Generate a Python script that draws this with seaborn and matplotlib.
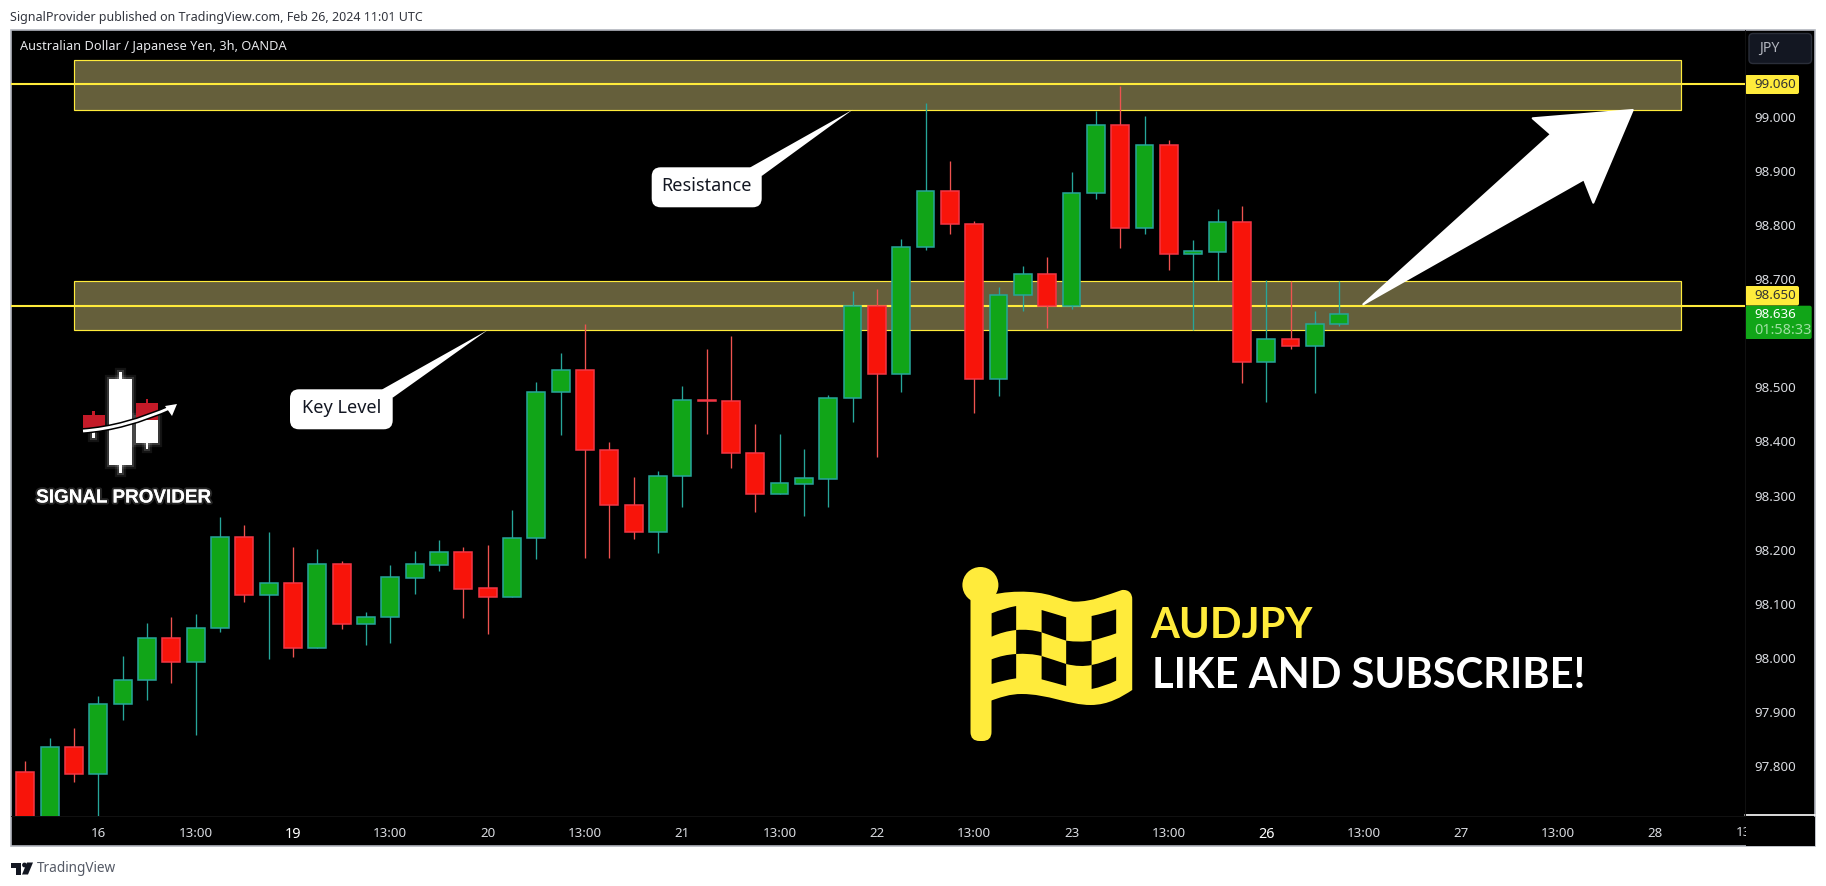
import matplotlib
matplotlib.use("Agg")
import matplotlib.pyplot as plt
import matplotlib.patheffects as pe
from matplotlib.patches import Rectangle, Polygon, FancyBboxPatch, PathPatch, Circle
from matplotlib.path import Path
import numpy as np
import pandas as pd
import seaborn as sns

# ---------------- data (prices) ----------------
highs = [97.810,97.852,97.871,97.930,98.004,98.064,98.076,98.081,98.260,98.246,98.233,98.205,98.201,98.179,
         98.085,98.172,98.198,98.218,98.205,98.209,98.273,98.509,98.563,98.617,98.399,98.334,98.345,98.502,
         98.571,98.595,98.433,98.414,98.386,98.486,98.678,98.681,98.774,99.025,98.918,98.807,98.685,98.724,
         98.741,98.898,99.010,99.056,99.001,98.957,98.772,98.829,98.835,98.698,98.696,98.641,98.696]
lows = [97.700,97.700,97.770,97.700,97.886,97.923,97.954,97.858,98.048,98.103,97.998,98.002,98.019,98.054,
        98.024,98.028,98.118,98.161,98.074,98.044,98.113,98.183,98.412,98.185,98.185,98.220,98.194,98.278,
        98.414,98.351,98.270,98.303,98.263,98.278,98.436,98.372,98.492,98.754,98.784,98.453,98.484,98.640,
        98.610,98.645,98.848,98.758,98.784,98.717,98.606,98.698,98.508,98.472,98.571,98.490,98.614]
opens = [97.789,97.700,97.835,97.786,97.914,97.959,98.036,97.993,98.055,98.223,98.117,98.138,98.019,98.173,
         98.063,98.075,98.148,98.172,98.195,98.129,98.113,98.221,98.491,98.531,98.385,98.282,98.233,98.337,
         98.476,98.475,98.378,98.303,98.322,98.331,98.481,98.651,98.525,98.760,98.862,98.802,98.515,98.670,
         98.709,98.651,98.858,98.984,98.794,98.947,98.747,98.750,98.805,98.546,98.590,98.577,98.616]
closes = [97.700,97.835,97.786,97.914,97.959,98.036,97.993,98.055,98.223,98.117,98.138,98.019,98.173,98.063,
          98.075,98.149,98.173,98.195,98.128,98.113,98.221,98.491,98.531,98.385,98.282,98.233,98.337,98.476,
          98.475,98.378,98.303,98.323,98.332,98.481,98.651,98.525,98.760,98.862,98.802,98.515,98.670,98.709,
          98.651,98.858,98.984,98.794,98.947,98.747,98.751,98.805,98.546,98.590,98.577,98.616,98.635]
time_tick_pos = [3,7,11,15,19,23,27,31,35,39,43,47,51,55,59,63,67]
time_tick_labels = ["16","13:00","19","13:00","20","13:00","21","13:00","22","13:00","23","13:00","26","13:00","27","13:00","28"]
bold_labels = ["19","26"]
price_ticks = [97.8,97.9,98.0,98.1,98.2,98.3,98.4,98.5,98.7,98.8,98.9,99.0]
level_prices = [99.060, 98.650]
zones = [(99.013, 99.104), (98.605, 98.696)]
zone_span = (2.01, 68.04)
last_price = "98.636"
countdown = "01:58:33"

W, H = 1826, 886
UP, DOWN = "#11A518", "#F8140A"
UP_EDGE, DOWN_EDGE = "#26A69A", "#F23645"
UP_WICK, DOWN_WICK = "#26A69A", "#EF5350"
YEL = "#FFEB3B"
BG = "black"

sns.set_theme(style="dark", rc={"axes.facecolor": "none", "figure.facecolor": "white"})
plt.rcParams["font.family"] = ["Noto Sans", "DejaVu Sans"]

fig = plt.figure(figsize=(W/100, H/100), dpi=100)

back = fig.add_axes([0, 0, 1, 1], zorder=0)
back.set_xlim(0, W); back.set_ylim(H, 0); back.axis("off")
back.add_patch(Rectangle((11, 30), 1804, 816, fc=BG, ec="#B2B5BE", lw=1.2))

L, R, T, B = 11, 1745, 30, 816
ax = fig.add_axes([L/W, 1-B/H, (R-L)/W, (B-T)/H], zorder=1)

df = pd.DataFrame({"i": np.arange(len(opens)), "open": opens, "high": highs, "low": lows, "close": closes})
df["up"] = df["close"] >= df["open"]
df["bottom"] = df[["open", "close"]].min(axis=1)
df["height"] = (df["close"] - df["open"]).abs()

for lo, hi in zones:
    ax.add_patch(Rectangle((zone_span[0], lo), zone_span[1]-zone_span[0], hi-lo, fc="#655F3B", ec=YEL, lw=0.85, zorder=1))
for lv in level_prices:
    ax.axhline(lv, color=YEL, lw=1.5, zorder=1.5)

for up, col in [(True, UP_WICK), (False, DOWN_WICK)]:
    s = df[df["up"] == up]
    ax.vlines(s["i"], s["low"], s["high"], color=col, lw=0.95, zorder=2)

for up, col, ec in [(True, UP, UP_EDGE), (False, DOWN, DOWN_EDGE)]:
    s = df[df["up"] == up]
    sns.barplot(data=s, x="i", y="height", bottom=s["bottom"].to_numpy(), native_scale=True, width=0.735,
                color=col, saturation=1, edgecolor=ec, linewidth=1.1, errorbar=None, ax=ax, zorder=3)
ax.set_xlim(-0.588, 70.68)
ax.set_ylim(97.708, 99.160)
ax.set_xlabel(""); ax.set_ylabel("")
ax.grid(False)
for sp in ax.spines.values():
    sp.set_visible(False)

ax.set_yticks(price_ticks)
ax.set_yticklabels([f"{p:.3f}" for p in price_ticks], color="#D9DBE0", fontsize=9.6)
ax.yaxis.tick_right()
ax.tick_params(axis="y", length=0, pad=6.4)
ax.set_xticks(time_tick_pos)
ax.set_xticklabels(time_tick_labels, color="#D9DBE0", fontsize=9.6)
ax.tick_params(axis="x", length=0, pad=8)
for t in ax.get_xticklabels():
    if t.get_text() in bold_labels:
        t.set_fontweight("bold")
        t.set_fontsize(10.4)
        t.set_color("white")
ax.text(71, -0.0215, "13:00", transform=ax.get_xaxis_transform(), ha="center", va="center", color="#D9DBE0", fontsize=9.6, clip_on=False)

ov = fig.add_axes([0, 0, 1, 1], zorder=2)
ov.set_xlim(0, W); ov.set_ylim(H, 0); ov.axis("off"); ov.patch.set_alpha(0)
ov.add_patch(Rectangle((1745.5, 816.5), 69, 29, fc=BG, ec="none"))
ov.plot([1745, 1815], [815, 815], color="white", lw=1.2)
ov.plot([11, 1745], [816, 816], color="#111111", lw=0.7)
ov.plot([1745, 1745], [30, 816], color="#111111", lw=0.7)

ov.text(10, 17, "SignalProvider published on TradingView.com, Feb 26, 2024 11:01 UTC", color="#33363F", fontsize=9.0, va="center")
ov.text(20, 46.5, "Australian Dollar / Japanese Yen, 3h, OANDA", color="#E8E9EC", fontsize=9.2, va="center")
ov.text(37, 869, "TradingView", color="#555A66", fontsize=9.8, va="center")
dk = "#131722"
ov.add_patch(Polygon([(11,862.5),(21,862.5),(21,874.5),(16,874.5),(16,867.5),(11,867.5)], fc=dk, ec="none"))
ov.add_patch(Circle((24.5,865), 2.4, fc=dk, ec="none"))
ov.add_patch(Polygon([(27,862.5),(33,862.5),(28,874.5),(22,874.5)], fc=dk, ec="none"))

ov.add_patch(FancyBboxPatch((1749, 33.5), 62.5, 30, boxstyle="round,pad=0,rounding_size=4", fc="#131722", ec="#2A2E39", lw=1))
ov.text(1759, 48.5, "JPY", color="#B2B5BE", fontsize=10.2, va="center")
for y0, y1, txt in [(75, 94, "99.060"), (286, 305.5, "98.650")]:
    ov.add_patch(FancyBboxPatch((1745, y0), 54, y1-y0, boxstyle="round,pad=0,rounding_size=2", fc=YEL, ec="none"))
    ov.text(1754, (y0+y1)/2, txt, color="#333333", fontsize=9.6, va="center")
ov.add_patch(FancyBboxPatch((1745, 305.7), 66.7, 33.3, boxstyle="round,pad=0,rounding_size=2", fc=UP, ec="none"))
ov.text(1754, 315, last_price, color="white", fontsize=9.6, va="center")
ov.text(1754, 330, countdown, color="#A0E0A3", fontsize=10.4, va="center")

def callout(x0, y0, x1, y1, tail, label, fs):
    ov.add_patch(Polygon(tail, fc="white", ec="none", zorder=5))
    ov.add_patch(FancyBboxPatch((x0, y0), x1-x0, y1-y0, boxstyle="round,pad=0,rounding_size=9", fc="white", ec="none", zorder=5))
    ov.text((x0+x1)/2, (y0+y1)/2-1, label, color="#131722", fontsize=fs, ha="center", va="center", zorder=6)
callout(651.7, 167.3, 761.7, 207.3, [(750,167.5),(852.7,109.7),(761.7,176)], "Resistance", 13)
callout(290, 389.3, 392.7, 429.3, [(382,389.5),(487.8,330),(392.7,397.7)], "Key Level", 13)

ov.add_patch(Polygon([(1363.3,304.3),(1551,134.3),(1532.7,118.3),(1632.7,110),(1593.3,202.7),(1584,179.3)],
                     fc="white", ec="white", lw=1.5, joinstyle="round", zorder=5))

# brand logo
glow = [pe.withStroke(linewidth=6, foreground="white", alpha=0.08), pe.withStroke(linewidth=3, foreground="white", alpha=0.15)]
def rect(x0, y0, x1, y1, c, g=True):
    r = Rectangle((x0, y0), x1-x0, y1-y0, fc=c, ec="none", zorder=4)
    if g:
        r.set_path_effects(glow + [pe.Normal()])
    ov.add_patch(r)
rect(118.8, 372.3, 121.8, 473.3, "white")
rect(109.3, 379.3, 132, 465, "white")
rect(145.6, 420, 148.4, 448.7, "white")
rect(136, 417, 158, 442.7, "white")
rect(92.3, 427, 95.1, 438, "white")
rect(92.3, 410.7, 95.1, 418, "#C41A28", g=False)
rect(83, 415, 105, 428, "#C41A28", g=False)
rect(145.6, 399.3, 148.4, 405, "#C41A28", g=False)
rect(136, 403.3, 158, 420, "#C41A28", g=False)
sw = Path([(83,431),(125,428),(172,407)], [Path.MOVETO, Path.CURVE3, Path.CURVE3])
ov.add_patch(PathPatch(sw, fc="none", ec="black", lw=4.2, zorder=4.5, capstyle="butt"))
ov.add_patch(PathPatch(sw, fc="none", ec="white", lw=2.0, zorder=4.6, capstyle="butt"))
ov.add_patch(Polygon([(177,404),(165,406),(172,416)], fc="white", ec="none", zorder=4.6))
ov.text(123.5, 498, "SIGNAL PROVIDER", family="Liberation Sans", fontweight="bold", fontsize=13.6, color="white",
        ha="center", va="center", zorder=5, path_effects=[pe.withStroke(linewidth=3, foreground="white", alpha=0.15), pe.Normal()])

# checkered flag (shape read in a 2.24x / 3x crop)
def fp(pts):
    return [(930+x/2.24, 540+y/3) for x, y in pts]
ov.add_patch(Circle((980.4, 585), 18, fc=YEL, ec="none", zorder=4))
ov.add_patch(FancyBboxPatch((970.5, 590), 21, 151, boxstyle="round,pad=0,rounding_size=9", fc=YEL, ec="none", zorder=4))
outer_v = [(120,172),(165,150),(235,150),(275,168),(300,178),(312,185),(325,185),(365,185),(395,165),(430,150),
           (445,148),(453,160),(453,178),(453,450),(430,470),(400,495),(360,495),(310,495),(265,462),(205,462),
           (180,462),(160,470),(120,490),(120,172)]
outer_c = [Path.MOVETO] + [Path.CURVE4]*12 + [Path.LINETO] + [Path.CURVE4]*9 + [Path.CLOSEPOLY]
ov.add_patch(PathPatch(Path(fp(outer_v), outer_c), fc=YEL, ec="none", zorder=4))
cells = [
    [(138,220),(165,207),(193,198),(193,270),(165,277),(138,290)],
    [(250,210),(278,221),(305,232),(305,302),(278,290),(250,277)],
    [(362,228),(390,219),(417,208),(417,280),(390,292),(362,302)],
    [(193,270),(222,270),(250,277),(250,348),(222,342),(193,342)],
    [(305,302),(335,305),(362,302),(362,375),(335,378),(305,372)],
    [(138,358),(165,347),(193,342),(193,415),(165,422),(138,432)],
    [(250,348),(278,360),(305,372),(305,438),(278,428),(250,418)],
    [(362,375),(390,365),(417,350),(417,422),(390,437),(362,447)],
]
for a, b, c, d, e, f in cells:
    ctrl1 = (2*b[0]-(a[0]+c[0])/2, 2*b[1]-(a[1]+c[1])/2)
    ctrl2 = (2*e[0]-(d[0]+f[0])/2, 2*e[1]-(d[1]+f[1])/2)
    verts = fp([a, ctrl1, c, d, ctrl2, f, a])
    codes = [Path.MOVETO, Path.CURVE3, Path.CURVE3, Path.LINETO, Path.CURVE3, Path.CURVE3, Path.CLOSEPOLY]
    ov.add_patch(PathPatch(Path(verts, codes), fc="black", ec="none", zorder=4.5))
ov.text(1150, 625.5, "AUDJPY", family="Lato", fontweight="bold", fontsize=30, color=YEL, va="center", zorder=5)
ov.text(1152, 675.5, "LIKE AND SUBSCRIBE!", family="Lato", fontweight="bold", fontsize=30, color="white", va="center", zorder=5)

fig.savefig("out.png", dpi=100, facecolor="white")
